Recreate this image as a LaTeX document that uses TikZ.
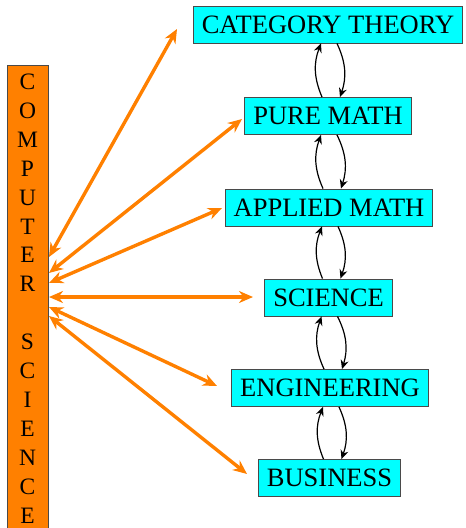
\documentclass[tikz,border=0pt]{standalone}
\usepackage{fontspec}
\setmainfont{Liberation Serif}
\usetikzlibrary{arrows.meta}
\definecolor{boxcyan}{HTML}{00FFFF}
\definecolor{csorange}{HTML}{FF8000}
\definecolor{edgegray}{HTML}{4A4A4A}
\begin{document}
\begin{tikzpicture}[
            x=1pt, y=-1pt,
            field/.style={rectangle, draw=edgegray, line width=0.9pt, fill=boxcyan,
                minimum height=37pt, inner xsep=8.5pt, inner ysep=0pt,
                font=\fontsize{26.5}{29}\selectfont},
            csbox/.style={rectangle, draw=edgegray, line width=0.9pt, fill=csorange,
                minimum width=41pt, minimum height=467pt, inner sep=0pt, align=center,
                font=\fontsize{23.5}{28.9}\selectfont},
            link/.style={csorange, line width=3.4pt,
                {Stealth[length=14pt,width=12pt,inset=4.5pt]}-{Stealth[length=14pt,width=12pt,inset=4.5pt]}},
            updown/.style={black, line width=1.2pt, -{Stealth[length=9pt,width=8pt,inset=3pt]}, bend left=22}
        ]
            \useasboundingbox (0,0) rectangle (466,528);

            \node[csbox] (cs) at (27.5,298.5)
                {C\\O\\M\\P\\U\\T\\E\\R\\[28.9pt]S\\C\\I\\E\\N\\C\\E};

            \foreach \n/\x/\y/\t in {cat/328/24.5/CATEGORY THEORY, pure/328/116/PURE MATH,
                    applied/329/207.5/APPLIED MATH, science/328.5/297.5/SCIENCE,
                    eng/330/388/ENGINEERING, bus/329.5/478/BUSINESS} {
                \node[field] (\n) at (\x,\y) {\t};
            }

            % ends of the orange links
            \foreach \i/\y in {1/257,2/273,3/283,4/297,5/307,6/316} {
                \coordinate (c\i) at (49,\y);
            }
            \coordinate (t1) at (177,29);
            \coordinate (t2) at (242,119);
            \coordinate (t3) at (222,208);
            \coordinate (t4) at (253,297);
            \coordinate (t5) at (217,386);
            \coordinate (t6) at (247,474);

            \foreach \i in {1,...,6} {
                \draw[link] (c\i) -- (t\i);
            }

            \foreach \lo/\up in {pure/cat, applied/pure, science/applied, eng/science, bus/eng} {
                \draw[updown] ([xshift=-6pt]\lo.north) to ([xshift=-7pt]\up.south);
                \draw[updown] ([xshift=9pt]\up.south) to ([xshift=12pt]\lo.north);
            }

        \end{tikzpicture}
\end{document}
